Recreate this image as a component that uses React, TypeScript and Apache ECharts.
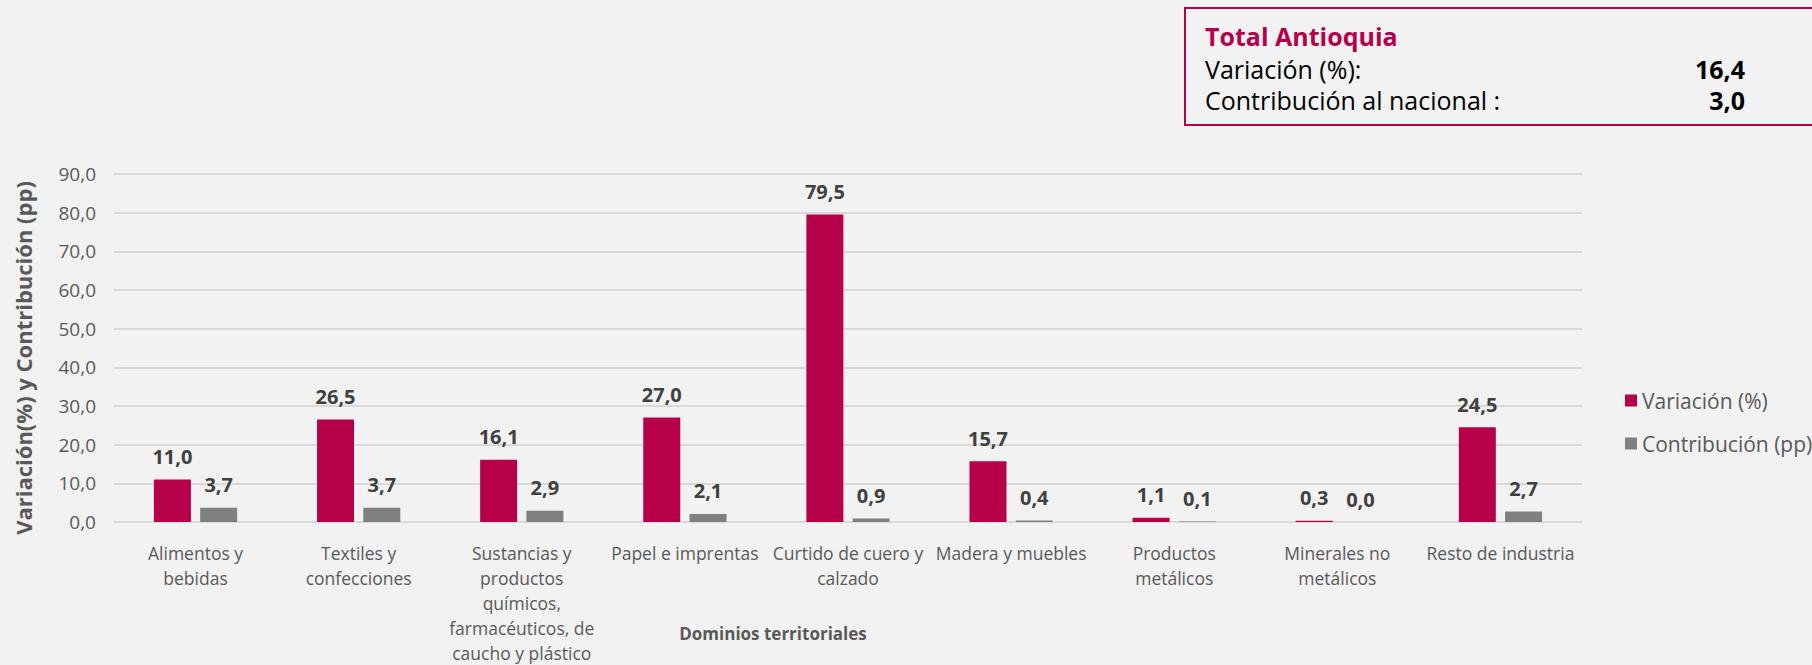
import React, { useEffect, useRef } from "react";
import * as echarts from "echarts";

const categories = [
  "Alimentos y\nbebidas",
  "Textiles y\nconfecciones",
  "Sustancias y\nproductos\nquímicos,\nfarmacéuticos, de\ncaucho y plástico",
  "Papel e imprentas",
  "Curtido de cuero y\ncalzado",
  "Madera y muebles",
  "Productos\nmetálicos",
  "Minerales no\nmetálicos",
  "Resto de industria",
];
const variacion = [11.0, 26.5, 16.1, 27.0, 79.5, 15.7, 1.1, 0.3, 24.5];
const contribucion = [3.7, 3.7, 2.9, 2.1, 0.9, 0.4, 0.1, 0.0, 2.7];
const seriesNames = ["Variación (%)", "Contribución (pp)"];
const boxTitle = "Total Antioquia";
const boxRows = ["Variación (%):", "Contribución al nacional :"];
const boxValues = ["16,4", "3,0"];
const xAxisTitle = "Dominios territoriales";
const yAxisTitle = "Variación(%) y Contribución (pp)";

const FONT = "'Open Sans', 'Noto Sans', sans-serif";
const CRIMSON = "#B7004A";
const GRAY = "#808080";
const fmt = (v: number) => v.toFixed(1).replace(".", ",");

export default function App() {
  const ref = useRef<HTMLDivElement>(null);
  useEffect(() => {
    if (!ref.current) return;
    const chart = echarts.init(ref.current, undefined, { renderer: "svg" });
    const labelStyle = {
      show: true,
      position: "top" as const,
      distance: 13,
      fontFamily: FONT,
      fontSize: 20,
      fontWeight: "bold" as const,
      color: "#404040",
      formatter: (p: any) => fmt(p.value),
    };
    chart.setOption({
      animation: false,
      backgroundColor: "#F2F2F2",
      textStyle: { fontFamily: FONT },
      grid: { left: 114, right: 230, top: 174, bottom: 139, containLabel: false },
      legend: {
        orient: "vertical",
        left: 1625,
        top: 390,
        padding: 0,
        itemWidth: 12,
        itemHeight: 12,
        itemGap: 22,
        icon: "rect",
        textStyle: { fontFamily: FONT, fontSize: 21, color: "#595959" },
        data: seriesNames,
      },
      xAxis: {
        type: "category",
        data: categories,
        axisLine: { show: true, lineStyle: { color: "#D9D9D9", width: 2 } },
        axisTick: { show: false },
        axisLabel: {
          interval: 0,
          margin: 18,
          fontFamily: FONT,
          fontSize: 17.5,
          lineHeight: 25,
          color: "#595959",
        },
      },
      yAxis: {
        type: "value",
        min: 0,
        max: 90,
        interval: 10,
        axisLine: { show: false },
        axisTick: { show: false },
        splitLine: { lineStyle: { color: "#D9D9D9", width: 2 } },
        axisLabel: {
          margin: 18,
          fontFamily: FONT,
          fontSize: 19,
          color: "#595959",
          formatter: (v: number) => fmt(v),
        },
      },
      series: [
        {
          name: seriesNames[0],
          type: "bar",
          data: variacion,
          barWidth: 37,
          barGap: "25%",
          itemStyle: { color: CRIMSON },
          label: labelStyle,
        },
        {
          name: seriesNames[1],
          type: "bar",
          data: contribucion,
          barWidth: 37,
          barGap: "25%",
          itemStyle: { color: GRAY },
          label: labelStyle,
        },
      ],
      graphic: [
        {
          type: "rect",
          shape: { x: 1185, y: 8, width: 700, height: 117 },
          style: { fill: "#F2F2F2", stroke: CRIMSON, lineWidth: 2 },
        },
        {
          type: "text",
          x: 1205,
          y: 36,
          style: {
            text: boxTitle,
            fontFamily: FONT,
            fontSize: 25,
            fontWeight: "bold",
            fill: CRIMSON,
            verticalAlign: "middle",
          },
        },
        ...boxRows.map((t, i) => ({
          type: "text",
          x: 1205,
          y: 69 + i * 31,
          style: { text: t, fontFamily: FONT, fontSize: 25, fill: "#000", verticalAlign: "middle" },
        })),
        ...boxValues.map((t, i) => ({
          type: "text",
          x: 1745,
          y: 69 + i * 31,
          style: {
            text: t,
            fontFamily: FONT,
            fontSize: 25,
            fontWeight: "bold",
            fill: "#000",
            align: "right",
            verticalAlign: "middle",
          },
        })),
        {
          type: "text",
          x: 773,
          y: 633,
          style: {
            text: xAxisTitle,
            fontFamily: FONT,
            fontSize: 17,
            fontWeight: "bold",
            fill: "#595959",
            align: "center",
            verticalAlign: "middle",
          },
        },
        {
          type: "text",
          x: 23,
          y: 358,
          rotation: Math.PI / 2,
          style: {
            text: yAxisTitle,
            fontFamily: FONT,
            fontSize: 22,
            fontWeight: "bold",
            fill: "#595959",
            align: "center",
            verticalAlign: "middle",
          },
        },
      ],
    });
    return () => chart.dispose();
  }, []);
  return (
    <div
      ref={ref}
      style={{ position: "fixed", left: 0, top: 0, width: 1812, height: 665 }}
    />
  );
}
